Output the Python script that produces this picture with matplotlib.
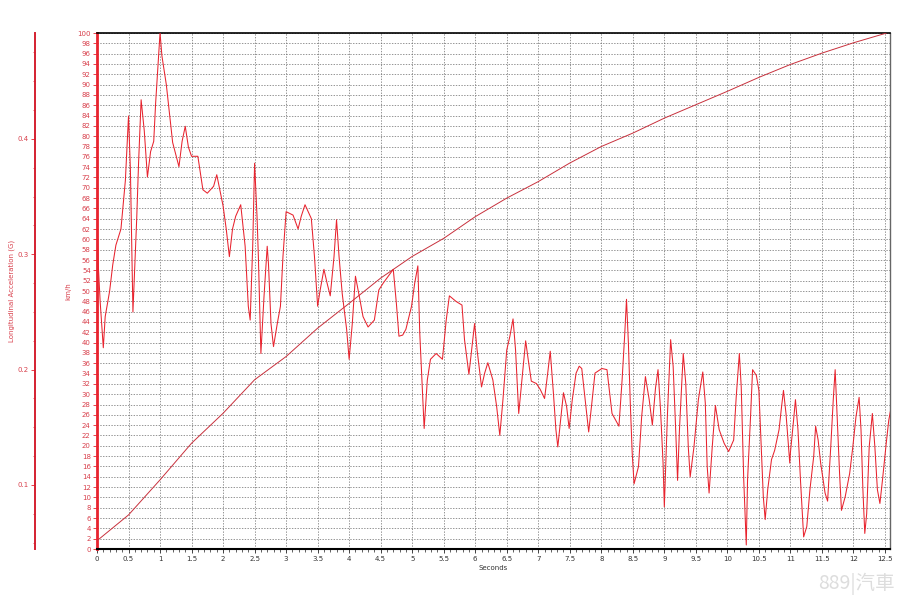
import matplotlib
matplotlib.use("Agg")
import matplotlib.pyplot as plt
from matplotlib.ticker import MultipleLocator, FormatStrFormatter

# ---------------- data ----------------
time_speed = [0.0, 0.5, 1.0, 1.5, 2.0, 2.5, 3.0, 3.5, 4.0, 4.5, 5.0, 5.5, 6.0,
              6.5, 7.0, 7.5, 8.0, 8.5, 9.0, 9.5, 10.0, 10.5, 11.0, 11.5, 12.0,
              12.5, 12.58]
speed_kmh = [1.6, 6.6, 13.4, 20.5, 26.3, 32.8, 37.3, 42.8, 47.6, 52.5, 56.7,
             60.2, 64.4, 68.0, 71.2, 74.8, 78.0, 80.6, 83.5, 86.1, 88.7, 91.4,
             93.9, 96.1, 98.1, 99.9, 100.3]

time_acc = [0.00, 0.02, 0.05, 0.10, 0.13, 0.20, 0.25, 0.30, 0.38, 0.45, 0.50,
            0.53, 0.57, 0.60, 0.63, 0.66, 0.70, 0.75, 0.80, 0.85, 0.90, 0.93,
            0.97, 1.00, 1.03, 1.10, 1.20, 1.30, 1.35, 1.40, 1.45, 1.50, 1.55,
            1.60, 1.68, 1.75, 1.85, 1.90, 2.00, 2.05, 2.10, 2.15, 2.20, 2.28,
            2.35, 2.40, 2.43, 2.47, 2.50, 2.54, 2.56, 2.60, 2.65, 2.70, 2.72,
            2.76, 2.80, 2.86, 2.91, 2.95, 3.00, 3.11, 3.19, 3.24, 3.30, 3.40,
            3.45, 3.50, 3.54, 3.60, 3.65, 3.70, 3.76, 3.80, 3.84, 3.89, 3.96,
            4.00, 4.05, 4.10, 4.17, 4.22, 4.30, 4.40, 4.47, 4.54, 4.62, 4.70,
            4.75, 4.79, 4.85, 4.90, 4.99, 5.04, 5.09, 5.12, 5.19, 5.24, 5.29,
            5.38, 5.48, 5.54, 5.59, 5.70, 5.79, 5.83, 5.90, 5.95, 5.99, 6.03,
            6.10, 6.15, 6.20, 6.28, 6.34, 6.39, 6.44, 6.50, 6.55, 6.60, 6.64,
            6.69, 6.74, 6.80, 6.84, 6.89, 6.97, 7.03, 7.10, 7.15, 7.19, 7.24,
            7.28, 7.31, 7.35, 7.40, 7.45, 7.49, 7.54, 7.60, 7.65, 7.69, 7.74,
            7.80, 7.85, 7.90, 8.01, 8.09, 8.17, 8.28, 8.33, 8.37, 8.40, 8.43,
            8.46, 8.49, 8.52, 8.59, 8.64, 8.70, 8.76, 8.81, 8.86, 8.90, 8.94,
            8.98, 9.00, 9.05, 9.10, 9.14, 9.18, 9.21, 9.24, 9.30, 9.34, 9.38,
            9.41, 9.47, 9.54, 9.61, 9.65, 9.68, 9.71, 9.76, 9.81, 9.87, 9.95,
            10.02, 10.10, 10.14, 10.19, 10.22, 10.26, 10.30, 10.32, 10.37,
            10.40, 10.46, 10.50, 10.54, 10.57, 10.60, 10.64, 10.70, 10.75,
            10.82, 10.86, 10.89, 10.93, 10.97, 10.99, 11.00, 11.05, 11.08,
            11.12, 11.16, 11.21, 11.26, 11.31, 11.37, 11.40, 11.44, 11.48,
            11.55, 11.59, 11.64, 11.68, 11.71, 11.74, 11.78, 11.81, 11.87,
            11.94, 11.99, 12.04, 12.09, 12.12, 12.15, 12.18, 12.21, 12.25,
            12.30, 12.34, 12.38, 12.42, 12.46, 12.52, 12.56, 12.59]
accel_g = [0.331, 0.291, 0.259, 0.219, 0.246, 0.268, 0.291, 0.308, 0.322, 0.364,
           0.420, 0.373, 0.250, 0.291, 0.331, 0.380, 0.434, 0.407, 0.367, 0.389,
           0.398, 0.431, 0.465, 0.492, 0.472, 0.447, 0.397, 0.376, 0.398, 0.411,
           0.393, 0.385, 0.385, 0.385, 0.356, 0.353, 0.359, 0.369, 0.342, 0.322,
           0.298, 0.322, 0.333, 0.343, 0.307, 0.255, 0.243, 0.307, 0.379, 0.331,
           0.298, 0.214, 0.264, 0.307, 0.292, 0.240, 0.220, 0.240, 0.255, 0.298,
           0.337, 0.334, 0.322, 0.333, 0.343, 0.331, 0.298, 0.255, 0.269, 0.287,
           0.275, 0.264, 0.298, 0.330, 0.298, 0.266, 0.235, 0.209, 0.240, 0.281,
           0.261, 0.246, 0.237, 0.243, 0.269, 0.275, 0.281, 0.287, 0.257, 0.229,
           0.230, 0.235, 0.255, 0.275, 0.290, 0.232, 0.149, 0.191, 0.209, 0.214,
           0.209, 0.243, 0.264, 0.259, 0.256, 0.226, 0.196, 0.220, 0.240, 0.217,
           0.185, 0.197, 0.206, 0.191, 0.168, 0.143, 0.174, 0.217, 0.229, 0.244,
           0.217, 0.162, 0.191, 0.225, 0.209, 0.190, 0.188, 0.183, 0.175, 0.197,
           0.216, 0.180, 0.148, 0.133, 0.154, 0.180, 0.168, 0.149, 0.174, 0.197,
           0.203, 0.201, 0.176, 0.146, 0.171, 0.197, 0.201, 0.200, 0.162, 0.151,
           0.191, 0.229, 0.261, 0.223, 0.171, 0.128, 0.101, 0.116, 0.159, 0.194,
           0.174, 0.152, 0.184, 0.200, 0.165, 0.119, 0.081, 0.162, 0.226, 0.203,
           0.148, 0.104, 0.148, 0.214, 0.188, 0.133, 0.107, 0.133, 0.174, 0.198,
           0.171, 0.116, 0.093, 0.133, 0.169, 0.148, 0.136, 0.129, 0.139, 0.176,
           0.214, 0.185, 0.104, 0.048, 0.104, 0.162, 0.200, 0.195, 0.182, 0.130,
           0.090, 0.070, 0.096, 0.122, 0.130, 0.148, 0.168, 0.182, 0.162, 0.133,
           0.119, 0.128, 0.156, 0.174, 0.148, 0.104, 0.055, 0.064, 0.096, 0.125,
           0.151, 0.139, 0.119, 0.093, 0.086, 0.133, 0.174, 0.200, 0.162, 0.110,
           0.078, 0.090, 0.110, 0.133, 0.159, 0.176, 0.148, 0.096, 0.058, 0.075,
           0.133, 0.162, 0.133, 0.096, 0.084, 0.104, 0.136, 0.156, 0.165]

speed_ticks = list(range(0, 101, 2))
time_ticks = [i * 0.5 for i in range(26)]
accel_ticks = [0.1, 0.2, 0.3, 0.4]

# ---------------- figure ----------------
W, H = 900, 600
fig = plt.figure(figsize=(9, 6), dpi=100)
fig.patch.set_facecolor("white")
rect = [97 / W, 51 / H, 793 / W, 516 / H]

RED = "#e8232e"
LBL = "#d8404c"

ax = fig.add_axes(rect)
ax.set_xlim(0, 12.58)
ax.set_ylim(0, 100)
ax.set_yticks(speed_ticks)
ax.set_xticks(time_ticks)
ax.xaxis.set_major_formatter(FormatStrFormatter("%g"))
ax.xaxis.set_minor_locator(MultipleLocator(0.1))
ax.grid(True, which="major", linestyle=(0, (2, 2)), color="#6a6a6a", linewidth=0.5)
ax.tick_params(axis="y", labelsize=5, labelcolor=LBL, color=RED, length=3, width=0.6, pad=1.5)
ax.tick_params(axis="x", which="major", labelsize=5, labelcolor="#333333", color="#222222", length=3, width=0.6, pad=2)
ax.tick_params(axis="x", which="minor", color="#222222", length=2, width=0.5)
ax.spines["left"].set_color(RED)
ax.spines["left"].set_linewidth(2)
ax.spines["bottom"].set_color("black")
ax.spines["bottom"].set_linewidth(1.5)
ax.spines["top"].set_color("black")
ax.spines["top"].set_linewidth(1.2)
ax.spines["right"].set_color("#666666")
ax.spines["right"].set_linewidth(1.0)
ax.set_xlabel("Seconds", fontsize=5, color="#333333", labelpad=2)
ax.set_ylabel("km/h", fontsize=5, color=LBL, labelpad=4)

ax.plot(time_speed, speed_kmh, color="#c8303c", linewidth=0.7, zorder=3)

# acceleration axis (outer left)
ax2 = fig.add_axes(rect)
ax2.patch.set_visible(False)
ax2.set_xlim(0, 12.58)
ax2.set_ylim(0.0445, 0.4919)
ax2.set_xticks([])
for s in ["top", "right", "bottom"]:
    ax2.spines[s].set_visible(False)
ax2.spines["left"].set_position(("axes", -62 / 793))
ax2.spines["left"].set_color("#d42030")
ax2.spines["left"].set_linewidth(1.4)
ax2.set_yticks(accel_ticks)
ax2.yaxis.set_major_formatter(FormatStrFormatter("%g"))
ax2.yaxis.set_minor_locator(MultipleLocator(0.025))
ax2.tick_params(axis="y", which="major", labelsize=5, labelcolor=LBL, color=RED, length=3, width=0.6, pad=1.5)
ax2.tick_params(axis="y", which="minor", color=RED, length=1.5, width=0.5)
ax2.set_ylabel("Longitudinal Acceleration (G)", fontsize=5, color=LBL)
ax2.yaxis.set_label_coords(-82 / 793, 0.5)

ax2.plot(time_acc, accel_g, color=RED, linewidth=0.75, zorder=4)

# watermark
fig.text(895 / W, 1 - 584 / H, "889|汽車", fontsize=14, color="#dddddd",
         ha="right", va="center", family=["Noto Sans CJK TC", "DejaVu Sans"])

fig.savefig("out.png", dpi=100, facecolor="white")
